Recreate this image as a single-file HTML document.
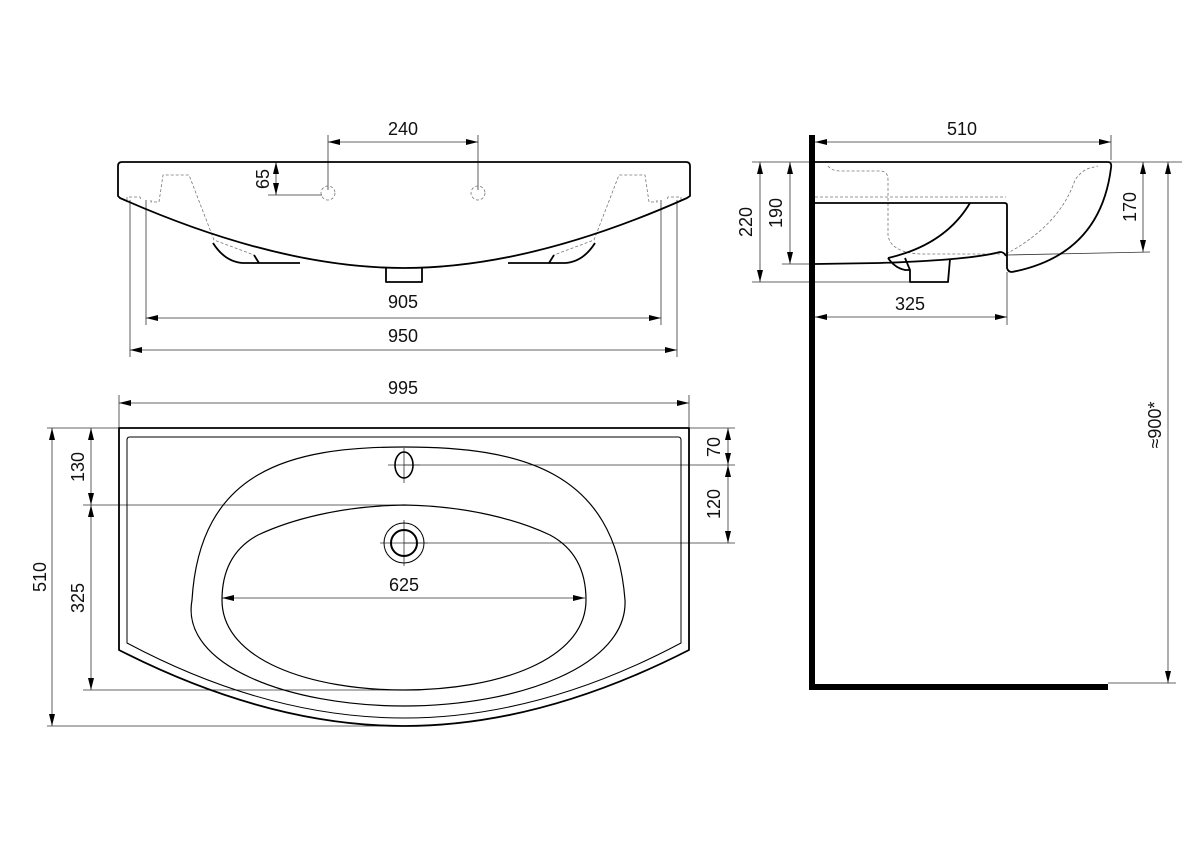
<!DOCTYPE html>
<html><head><meta charset="utf-8"><style>
html,body{margin:0;padding:0;background:#fff;}
svg{display:block;}
text{font-family:"Liberation Sans",Arial,sans-serif;font-size:18px;fill:#111;}
</style></head><body>
<svg width="1200" height="848" viewBox="0 0 1200 848" xmlns="http://www.w3.org/2000/svg">
<defs>
<marker id="a" viewBox="0 0 12 6" refX="12" refY="3" markerWidth="12" markerHeight="6" orient="auto-start-reverse" markerUnits="userSpaceOnUse"><path d="M0,0 L12,3 L0,6 z" fill="#000"/></marker>
</defs>
<g fill="none" stroke="#333" stroke-width="0.8">
<line x1="328" y1="135" x2="328" y2="190"/><line x1="478" y1="135" x2="478" y2="190"/>
<line x1="328" y1="142" x2="478" y2="142" marker-start="url(#a)" marker-end="url(#a)"/>
<line x1="268" y1="195" x2="322" y2="195"/>
<line x1="276" y1="162" x2="276" y2="195" marker-start="url(#a)" marker-end="url(#a)"/>
<line x1="146" y1="200" x2="146" y2="325"/><line x1="661" y1="200" x2="661" y2="325"/>
<line x1="146" y1="318" x2="661" y2="318" marker-start="url(#a)" marker-end="url(#a)"/>
<line x1="130" y1="200" x2="130" y2="357"/><line x1="677" y1="200" x2="677" y2="357"/>
<line x1="130" y1="350" x2="677" y2="350" marker-start="url(#a)" marker-end="url(#a)"/>
<line x1="119" y1="395" x2="119" y2="428"/><line x1="689" y1="395" x2="689" y2="428"/>
<line x1="119" y1="403" x2="689" y2="403" marker-start="url(#a)" marker-end="url(#a)"/>
<line x1="47" y1="428" x2="119" y2="428"/><line x1="689" y1="428" x2="735" y2="428"/>
<line x1="52" y1="428" x2="52" y2="726" marker-start="url(#a)" marker-end="url(#a)"/>
<line x1="47" y1="726" x2="404" y2="726"/>
<line x1="91" y1="428" x2="91" y2="505" marker-start="url(#a)" marker-end="url(#a)"/>
<line x1="91" y1="505" x2="91" y2="690" marker-start="url(#a)" marker-end="url(#a)"/>
<line x1="83" y1="505" x2="404" y2="505"/><line x1="83" y1="690" x2="404" y2="690"/>
<line x1="728" y1="428" x2="728" y2="465" marker-start="url(#a)" marker-end="url(#a)"/>
<line x1="728" y1="465" x2="728" y2="543" marker-start="url(#a)" marker-end="url(#a)"/>
<line x1="404" y1="465" x2="735" y2="465"/><line x1="404" y1="543" x2="735" y2="543"/>
<line x1="222" y1="598" x2="585" y2="598" marker-start="url(#a)" marker-end="url(#a)"/>
<line x1="404" y1="448" x2="404" y2="483"/><line x1="388" y1="465" x2="420" y2="465"/>
<line x1="404" y1="520" x2="404" y2="566"/><line x1="380" y1="543" x2="428" y2="543"/>
<line x1="1111" y1="135" x2="1111" y2="160"/>
<line x1="815" y1="142" x2="1111" y2="142" marker-start="url(#a)" marker-end="url(#a)"/>
<line x1="752" y1="162" x2="1182" y2="162"/>
<line x1="752" y1="282" x2="910" y2="282"/>
<line x1="782" y1="264" x2="815" y2="264"/>
<line x1="1007" y1="255" x2="1150" y2="252"/>
<line x1="760" y1="162" x2="760" y2="282" marker-start="url(#a)" marker-end="url(#a)"/>
<line x1="790" y1="162" x2="790" y2="264" marker-start="url(#a)" marker-end="url(#a)"/>
<line x1="1143" y1="162" x2="1143" y2="252" marker-start="url(#a)" marker-end="url(#a)"/>
<line x1="1168" y1="162" x2="1168" y2="683" marker-start="url(#a)" marker-end="url(#a)"/>
<line x1="1108" y1="683" x2="1176" y2="683"/>
<line x1="1007" y1="272" x2="1007" y2="325"/>
<line x1="815" y1="317" x2="1007" y2="317" marker-start="url(#a)" marker-end="url(#a)"/>
</g>
<g fill="none" stroke="#777" stroke-width="0.8" stroke-dasharray="3,2">
<circle cx="328" cy="193" r="7"/><circle cx="478" cy="193" r="7"/>
<path d="M127,200 L127,197 L140,197 L141,200 M151,200 L151,202 L159,202 L163,175 L189,175 L214,240 L254,255"/>
<path d="M681,200 L681,197 L668,197 L667,200 M657,200 L657,202 L649,202 L645,175 L619,175 L594,240 L554,255"/>
<path d="M828,166 Q832,171 840,171 L880,171 Q888,171 888,180 L888,235 Q890,252 920,254 L1000,254"/>
<path d="M815,197 L1006,197"/>
<path d="M1006,254 Q1060,225 1075,180 Q1082,170 1090,168 L1098,166"/>
</g>
<g fill="none" stroke="#000" stroke-width="1.8" stroke-linejoin="round">
<path d="M122,162 L686,162 Q690,162 690,166 L690,196 L687,198 Q530,268 404,268 Q278,268 120,198 L118,196 L118,166 Q118,162 122,162 Z"/>
<path d="M386,268 L386,282 L422,282 L422,268"/>
<path d="M213,243 Q225,262 243,263 L300,263"/>
<path d="M595,243 Q583,262 565,263 L508,263"/>
<path d="M254,255 L259,263"/>
<path d="M554,255 L549,263"/>
<path d="M815,162 L1108,162 Q1112,162 1111,168 Q1100,255 1012,272 Q1008,272 1007,268 L1007,205 Q1007,203 1004,203 L815,203"/>
<path d="M815,264 L880,263 Q970,260 1000,252 Q1004,252 1006,256"/>
<path d="M970,203 Q945,245 888,258"/>
<path d="M888,258 Q895,268 905,270 L910,270 L910,282 L948,282 L950,259"/>
<path d="M905,258 L910,270"/>
<path d="M119,428 L689,428 L689,650 Q540,726 404,726 Q268,726 119,650 Z"/>
<path d="M404,447 C520,447 615,470 625,600 C628,665 520,706 404,706 C288,706 180,665 192,600 C200,470 290,447 404,447 Z" stroke-width="1.2"/>
<path d="M404,505 C340,506 290,520 258,535 C230,550 222,575 222,600 C222,660 310,690 404,690 C498,690 586,660 586,600 C586,575 578,550 550,535 C518,520 468,506 404,505 Z" stroke-width="1.2"/>
<ellipse cx="404" cy="465" rx="9" ry="13" stroke-width="1.6"/>
<circle cx="404" cy="543" r="13" stroke-width="2"/>
</g>
<g fill="none" stroke="#000" stroke-width="1">
<path d="M130,437 L678,437 Q681,437 681,440 L681,643 Q540,718 404,718 Q268,718 127,643 L127,440 Q127,437 130,437 Z"/>
<circle cx="404" cy="543" r="20"/>
</g>
<rect x="809" y="135" width="6" height="555" fill="#000"/>
<rect x="809" y="684" width="299" height="6" fill="#000"/>
<text x="403" y="135" text-anchor="middle">240</text>
<text x="403" y="308" text-anchor="middle">905</text>
<text x="403" y="342" text-anchor="middle">950</text>
<text x="403" y="394" text-anchor="middle">995</text>
<text x="404" y="591" text-anchor="middle">625</text>
<text x="962" y="135" text-anchor="middle">510</text>
<text x="910" y="310" text-anchor="middle">325</text>
<text transform="translate(269,179) rotate(-90)" text-anchor="middle">65</text>
<text transform="translate(46,577) rotate(-90)" text-anchor="middle">510</text>
<text transform="translate(84,467) rotate(-90)" text-anchor="middle">130</text>
<text transform="translate(84,598) rotate(-90)" text-anchor="middle">325</text>
<text transform="translate(720,447) rotate(-90)" text-anchor="middle">70</text>
<text transform="translate(720,504) rotate(-90)" text-anchor="middle">120</text>
<text transform="translate(752,222) rotate(-90)" text-anchor="middle">220</text>
<text transform="translate(782,213) rotate(-90)" text-anchor="middle">190</text>
<text transform="translate(1136,207) rotate(-90)" text-anchor="middle">170</text>
<text transform="translate(1161,425) rotate(-90)" text-anchor="middle">≈900*</text>
</svg>
</body></html>
